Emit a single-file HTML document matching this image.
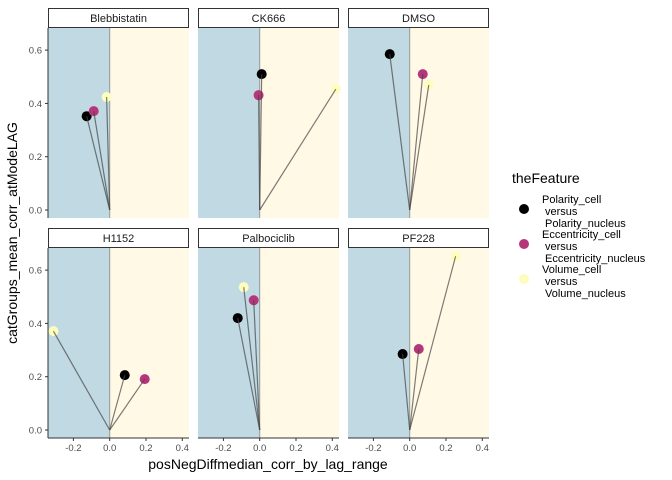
<!DOCTYPE html>
<html><head><meta charset="utf-8"><style>
body{margin:0;background:#fff;}
svg{display:block;font-family:"Liberation Sans",sans-serif;}
</style></head><body>
<svg id="chart" width="672" height="480"></svg>
<script>
const panelNames = ["Blebbistatin","CK666","DMSO","H1152","Palbociclib","PF228"];
const featureNames = ["Polarity_cell versus Polarity_nucleus","Eccentricity_cell versus Eccentricity_nucleus","Volume_cell versus Volume_nucleus"];
const featureColors = ["#000000","#b5367a","#fcfdbf"];
const xVals = [
  [-0.127,-0.088,-0.017],
  [0.011,-0.006,0.42],
  [-0.11,0.072,0.105],
  [0.083,0.193,-0.31],
  [-0.121,-0.033,-0.088],
  [-0.039,0.05,0.253]
];
const yVals = [
  [0.352,0.371,0.424],
  [0.51,0.431,0.454],
  [0.585,0.51,0.469],
  [0.206,0.191,0.371],
  [0.42,0.487,0.536],
  [0.285,0.304,0.652]
];
const xTicks = [-0.2,0.0,0.2,0.4];
const xTickLabels = ["-0.2","0.0","0.2","0.4"];
const yTicks = [0,0.2,0.4,0.6];
const yTickLabels = ["0.0","0.2","0.4","0.6"];

const NS="http://www.w3.org/2000/svg";
const svg=document.getElementById('chart');
function mk(t,a,p){const e=document.createElementNS(NS,t);for(const k in a)e.setAttribute(k,a[k]);(p||svg).appendChild(e);return e;}
const colX=[48,198,348], pw=141, rowY=[28,248], ph=190;
const xmin=-0.34, xmax=0.437, ymin=-0.03, ymax=0.683;
panelNames.forEach((name,i)=>{
  const px=colX[i%3], py=rowY[Math.floor(i/3)];
  const sx=v=>px+(v-xmin)/(xmax-xmin)*pw;
  const sy=v=>py+ph-(v-ymin)/(ymax-ymin)*ph;
  const g=mk('g',{});
  
  
  const bl=mk('rect',{x:px,y:py,width:sx(0)-px,height:ph,fill:'#c0d9e2'},g);
  
  
  const yl=mk('rect',{x:sx(0),y:py,width:px+pw-sx(0),height:ph,fill:'#fff9e6'},g);
  
  
  mk('line',{x1:sx(0),x2:sx(0),y1:py,y2:py+ph,stroke:'#999',"stroke-width":1},g);
  const st=mk('rect',{x:px+0.5,y:py-20+0.5,width:pw-1,height:19,fill:'#fff',stroke:'#333',"stroke-width":1},g);
  
  
  const tt=mk('text',{x:px+pw/2,y:py-6,"text-anchor":"middle","font-size":11,fill:'#1a1a1a'},g);
  tt.textContent=name;
  
  
  xVals[i].forEach((xv,j)=>{
    const c=mk('circle',{cx:sx(xv),cy:sy(yVals[i][j]),r:5,fill:featureColors[j]},g);
    
    
  });
  xVals[i].forEach((xv,j)=>{
    const l=mk('line',{x1:sx(0),y1:sy(0),x2:sx(xv),y2:sy(yVals[i][j]),stroke:'#444',"stroke-opacity":0.7,"stroke-width":1.2},g);
    
    
  });
  if(i%3===0){
    mk('line',{x1:px,x2:px,y1:py,y2:py+ph,stroke:'#333'},g);
    yTicks.forEach((t,k)=>{
      mk('line',{x1:px-3,x2:px,y1:sy(t),y2:sy(t),stroke:'#333'},g);
      const tl=mk('text',{x:px-6,y:sy(t)+3.5,"text-anchor":"end","font-size":9.5,fill:'#4d4d4d'},g);
      tl.textContent=yTickLabels[k];
      
      
    });
  }
  if(i>=3){
    mk('line',{x1:px,x2:px+pw,y1:py+ph,y2:py+ph,stroke:'#333'},g);
    xTicks.forEach((t,k)=>{
      mk('line',{x1:sx(t),x2:sx(t),y1:py+ph,y2:py+ph+3,stroke:'#333'},g);
      const tl=mk('text',{x:sx(t),y:py+ph+13,"text-anchor":"middle","font-size":9.5,fill:'#4d4d4d'},g);
      tl.textContent=xTickLabels[k];
      
      
    });
  }
});
const xt=mk('text',{x:268,y:469,"text-anchor":"middle","font-size":14,fill:'#000'});
xt.textContent='posNegDiffmedian_corr_by_lag_range';


const yt=mk('text',{x:0,y:0,"text-anchor":"middle","font-size":14,fill:'#000',transform:'translate(17,233) rotate(-90)'});
yt.textContent='catGroups_mean_corr_atModeLAG';


const lt=mk('text',{x:512,y:183,"font-size":14,fill:'#000'});
lt.textContent='theFeature';


const legLines=[["Polarity_cell","versus","Polarity_nucleus"],["Eccentricity_cell","versus","Eccentricity_nucleus"],["Volume_cell","versus","Volume_nucleus"]];
legLines.forEach((ls,j)=>{
  const cy=209+j*35;
  const g=mk('g',{});
  
  
  mk('circle',{cx:524,cy:cy,r:5,fill:featureColors[j]},g);
  ls.forEach((s,k)=>{
    const t=mk('text',{x:k===0?542:545,y:cy-9+k*12+3,"font-size":11,fill:'#000'},g);
    t.textContent=s;
  });
});
</script>
</body></html>
